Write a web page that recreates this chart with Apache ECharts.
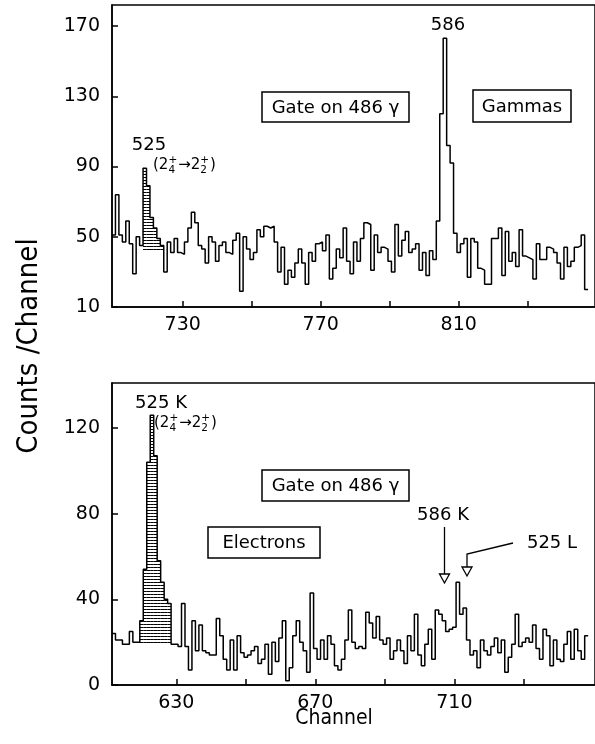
<!DOCTYPE html>
<html><head><meta charset="utf-8">
<script src="https://cdn.jsdelivr.net/npm/echarts@6/dist/echarts.min.js"></script>
<style>html,body{margin:0;padding:0;background:#fff}#c{width:595px;height:744px}</style>
</head><body><div id="c"></div>
<script>
// ---- data: gamma spectrum (top), channels 710..847
const gammaStart = 710;
const gammaCounts = [
51,74,51,47,59,46,29,50,45,89,
79,61,55,49,45,30,47,41,49,41,
40,47,55,64,58,45,43,35,50,47,
36,45,47,41,40,48,52,19,50,43,
37,41,54,50,56,55,56,47,30,44,
23,31,27,35,43,35,23,41,36,46,
47,42,51,26,32,43,38,55,36,29,
47,36,49,58,57,31,51,41,44,43,
36,30,57,39,48,53,41,43,46,31,
41,28,42,37,59,120,163,102,92,52,
41,46,49,27,49,47,32,31,23,23,
49,49,55,28,53,36,41,33,54,39,
38,37,26,46,37,37,44,43,41,35,
26,44,33,36,44,45,51,20];
const gammaHatch = [719,720,721,722,723,724];
const gammaHatchBase = 42;
const gammaYTicks = [10,50,90,130,170];
const gammaXTicks = [730,750,770,790,810,830];
const gammaXLabels = [730,770,810];

// ---- data: electron spectrum (bottom), channels 612..748
const electronStart = 612;
const electronCounts = [
24,21,21,19,19,25,20,20,30,54,
104,126,107,58,48,40,38,19,19,18,
38,18,7,30,16,28,16,15,14,14,
31,23,12,7,21,7,23,15,13,14,
16,18,10,12,19,5,20,11,22,30,
2,8,23,30,20,16,6,43,17,12,
21,12,23,19,9,7,12,21,35,20,
17,18,17,34,29,22,32,21,19,22,
12,16,21,16,10,23,16,33,14,9,
19,26,12,35,33,30,25,26,27,48,
33,36,21,14,16,8,21,16,14,18,
22,15,21,6,13,19,33,18,20,22,
20,28,17,12,26,23,9,21,12,11,
19,25,12,26,16,12,23];
const electronHatch = [620,621,622,623,624,625,626,627,628];
const electronHatchBase = 19;
const electronYTicks = [0,40,80,120];
const electronXTicks = [630,650,670,690,710,730];
const electronXLabels = [630,670,710];

// ---- helpers
function stepData(start, counts){
  const d = counts.map((v,i)=>[start+i-0.5, v]);
  d.push([start+counts.length-0.5, counts[counts.length-1]]);
  return d;
}
function hatchData(start, counts, chans, base){
  return chans.map(c=>[c, counts[c-start], base]);
}
function hatchRender(params, api){
  const c = api.value(0), v = api.value(1), b = api.value(2);
  const p1 = api.coord([c-0.5, v]);
  const p2 = api.coord([c+0.5, b]);
  const children = [];
  const x1 = Math.min(p1[0],p2[0]), x2 = Math.max(p1[0],p2[0]);
  for(let y = Math.round(p2[1]) - 1.5; y > p1[1]; y -= 3){
    children.push({type:'line', shape:{x1:x1, y1:y, x2:x2, y2:y}, style:{stroke:'#000', lineWidth:1}});
  }
  return {type:'group', children};
}
const FONT = 'DejaVu Sans';
const COND = '"DejaVu Sans Condensed","Liberation Sans Narrow","DejaVu Sans",sans-serif';
const PXW = 490;

function xAxisCfg(gi, min, max, ticks, labels){
  return {gridIndex:gi, type:'value', min:min, max:max,
    axisLine:{show:true, lineStyle:{color:'#000', width:1.5}},
    axisTick:{show:true, inside:true, length:6, customValues:ticks, lineStyle:{color:'#000', width:1.5}},
    axisLabel:{show:true, customValues:labels, color:'#000', fontSize:19, fontFamily:FONT, margin:9},
    splitLine:{show:false}};
}
function yAxisCfg(gi, min, max, ticks){
  return {gridIndex:gi, type:'value', min:min, max:max,
    axisLine:{show:true, lineStyle:{color:'#000', width:1.5}},
    axisTick:{show:true, inside:true, length:6, customValues:ticks, lineStyle:{color:'#000', width:1.5}},
    axisLabel:{show:true, customValues:ticks, color:'#000', fontSize:19, fontFamily:FONT, margin:12},
    splitLine:{show:false}};
}

// measure text for the transition labels
const mctx = document.createElement('canvas').getContext('2d');
function tw(t, size){ mctx.font = size+'px "DejaVu Sans"'; return mctx.measureText(t).width; }
function transition(x, yMid){
  const big = 15, small = 10.5;
  const els = [];
  let cx = x;
  const put = (t, size, dy, xx) => els.push({type:'text', x:xx, y:yMid+dy,
      style:{text:t, font:size+'px "DejaVu Sans"', fill:'#000', align:'left', verticalAlign:'middle'}});
  put('(2', big, 0, cx); cx += tw('(2', big);
  put('+', small, -5, cx); put('4', small, 5, cx); cx += tw('+', small) + 1;
  put('\u21922', big, 0, cx); cx += tw('\u21922', big);
  put('+', small, -5, cx); put('2', small, 5, cx); cx += tw('+', small) + 1;
  put(')', big, 0, cx);
  return els;
}
function boxed(x, y, w, h, t){
  return [
    {type:'rect', shape:{x:x, y:y, width:w, height:h}, style:{fill:'#fff', stroke:'#000', lineWidth:1.5}, z:10},
    {type:'text', x:x+w/2, y:y+h/2+1, z:11, style:{text:t, font:'18px "DejaVu Sans"', fill:'#000', align:'center', verticalAlign:'middle'}}
  ];
}
function label(x, y, t, size){
  return {type:'text', x:x, y:y, z:11, style:{text:t, font:size+'px "DejaVu Sans"', fill:'#000', align:'center', verticalAlign:'middle'}};
}

const graphics = [].concat(
  [label(448, 25, '586', 18), label(149, 145, '525', 18), label(161, 403, '525 K', 18),
   label(443, 515, '586 K', 18), label(552, 543, '525 L', 18)],
  transition(153, 165),
  transition(154, 423),
  boxed(262, 92, 147, 30, 'Gate on 486 \u03b3'),
  boxed(473, 90, 98, 32, 'Gammas'),
  boxed(262, 470, 147, 31, 'Gate on 486 \u03b3'),
  boxed(208, 527, 112, 31, 'Electrons'),
  [
   {type:'line', shape:{x1:444.5, y1:527, x2:444.5, y2:574}, style:{stroke:'#000', lineWidth:1.3}},
   {type:'polygon', shape:{points:[[439.5,574],[449.5,574],[444.5,583]]}, style:{fill:'#fff', stroke:'#000', lineWidth:1.3}},
   {type:'polyline', shape:{points:[[513,543],[467,554],[467,567]]}, style:{stroke:'#000', lineWidth:1.3, fill:null}},
   {type:'polygon', shape:{points:[[462,567],[472,567],[467,576]]}, style:{fill:'#fff', stroke:'#000', lineWidth:1.3}},
   {type:'text', x:29, y:346, rotation:Math.PI/2, style:{text:'Counts /Channel', font:'29px '+COND, fill:'#000', align:'center', verticalAlign:'middle'}},
   {type:'text', x:334, y:719, style:{text:'Channel', font:'21px '+COND, fill:'#000', align:'center', verticalAlign:'middle'}}
  ]
);

const chart = echarts.init(document.getElementById('c'), null, {renderer:'canvas'});
chart.setOption({
  animation:false,
  backgroundColor:'#fff',
  grid:[
    {left:112, top:5, width:PXW, height:302, show:true, borderColor:'#000', borderWidth:1.5, backgroundColor:'transparent'},
    {left:112, top:383, width:PXW, height:302, show:true, borderColor:'#000', borderWidth:1.5, backgroundColor:'transparent'}
  ],
  xAxis:[
    xAxisCfg(0, gammaStart-0.5, gammaStart-0.5+PXW/3.5, gammaXTicks, gammaXLabels),
    xAxisCfg(1, electronStart-0.5, electronStart-0.5+PXW/3.526, electronXTicks, electronXLabels)
  ],
  yAxis:[
    yAxisCfg(0, 10, 182, gammaYTicks),
    yAxisCfg(1, 0, 141, electronYTicks)
  ],
  series:[
    {type:'custom', xAxisIndex:0, yAxisIndex:0, renderItem:hatchRender, encode:{x:0,y:1},
     data:hatchData(gammaStart, gammaCounts, gammaHatch, gammaHatchBase), silent:true},
    {type:'custom', xAxisIndex:1, yAxisIndex:1, renderItem:hatchRender, encode:{x:0,y:1},
     data:hatchData(electronStart, electronCounts, electronHatch, electronHatchBase), silent:true},
    {type:'line', xAxisIndex:0, yAxisIndex:0, step:'end', showSymbol:false, symbol:'none',
     lineStyle:{color:'#000', width:1.5}, data:stepData(gammaStart, gammaCounts), silent:true},
    {type:'line', xAxisIndex:1, yAxisIndex:1, step:'end', showSymbol:false, symbol:'none',
     lineStyle:{color:'#000', width:1.5}, data:stepData(electronStart, electronCounts), silent:true}
  ],
  graphic: graphics
});
</script></body></html>
